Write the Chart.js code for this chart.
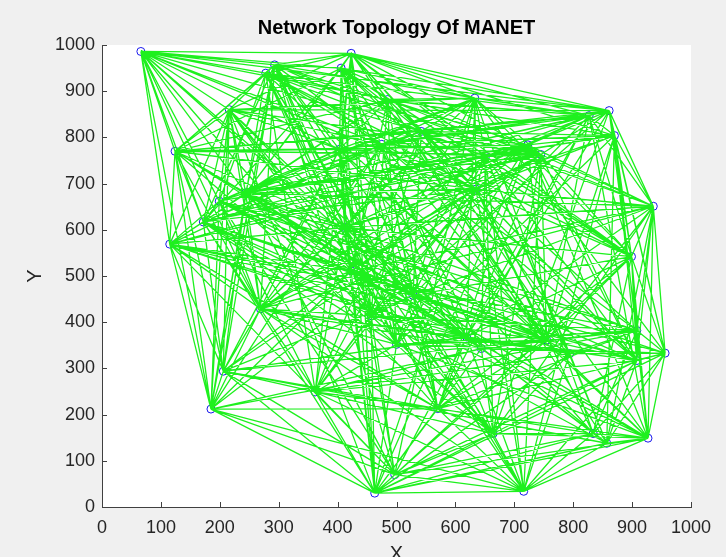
<!DOCTYPE html>
<html>
<head>
<meta charset="utf-8">
<script src="https://cdn.jsdelivr.net/npm/chart.js@4.4.0/dist/chart.umd.min.js"></script>
<style>
  html, body { margin: 0; padding: 0; background: #f0f0f0; overflow: hidden; }
</style>
</head>
<body>
<canvas id="topo" width="726" height="557"></canvas>
<script>
// node positions
const nodeX = [66, 423, 293, 278, 406, 485, 633, 827, 861, 870,
               216, 124, 542, 475, 403, 651, 723, 745, 936, 635,
               244, 199, 172, 115, 412, 423, 899, 269, 457, 528,
               500, 619, 644, 755, 794, 908, 908, 956, 206, 362,
               570, 664, 834, 857, 927, 185, 463, 497, 716];
const nodeY = [986, 982, 957, 939, 950, 882, 885, 847, 858, 804,
               860, 770, 813, 785, 774, 759, 784, 763, 651, 688,
               680, 662, 617, 569, 605, 511, 542, 429, 414, 458,
               352, 368, 343, 361, 332, 382, 317, 333, 294, 249,
               213, 159, 159, 138, 149, 212, 30, 70, 34];

// links: for each node, the higher-numbered nodes it is joined to
const links = [
  [1,2,3,4,5,8,10,11,12,13,14,19,20,21,22,23,24,27,28,29,45],
  [2,3,4,5,6,7,8,9,10,12,14,15,17,19,20,24,26,28,30,33,39,46],
  [3,4,6,10,11,12,13,14,16,18,20,22,24,25,27,29,31,38,40,45,47],
  [5,7,10,11,13,15,17,19,21,24,26,28,30,34,39,41,45,48],
  [5,6,8,11,12,14,17,19,20,22,24,26,29,32,33,36,40,41,46],
  [6,7,9,11,12,14,16,18,20,22,23,25,28,30,33,35,40,43],
  [7,8,10,12,13,14,15,17,19,20,21,24,26,27,29,31,37,39,42,47],
  [8,9,11,12,13,15,16,18,20,22,24,26,29,31,33,40,44],
  [9,10,12,13,14,16,17,18,20,26,28,31,35,37,41],
  [12,13,15,16,18,19,20,24,26,30,33,36,37,43,44,48],
  [11,13,14,17,20,21,22,23,25,27,28,29,32,38,41,45,46],
  [12,14,16,17,19,20,22,23,24,27,29,30,31,38,45],
  [13,15,16,17,19,20,22,24,26,28,29,34,36,39,44],
  [14,17,19,20,22,23,25,27,29,31,33,35,36,40,45],
  [15,16,19,20,21,24,25,27,28,30,33,38,42,44,47],
  [16,17,19,20,22,23,26,27,29,32,34,36,39,41,43,48],
  [17,18,19,20,21,24,25,27,30,33,36,40,44,46],
  [18,19,20,22,23,25,26,27,31,33,36,38,41,45,48],
  [19,20,24,25,26,27,29,31,33,35,36,37,41,43,44],
  [20,22,24,25,26,27,28,30,33,34,36,39,42,46,48],
  [21,22,24,25,27,28,32,33,35,36,38,40,44,45,47],
  [22,23,24,27,29,31,33,35,37,39,45,47],
  [23,25,27,28,30,31,33,36,38,41,44,46],
  [24,25,27,29,31,32,33,35,38,40,45,47],
  [25,26,27,28,30,31,33,35,39,40,43,46,48],
  [27,29,30,32,33,34,37,38,41,44,45,46],
  [29,31,33,35,36,37,40,42,44,47],
  [28,30,32,34,36,38,39,40,45,48],
  [29,31,33,35,39,41,43,46,47],
  [30,32,34,36,38,40,42,48],
  [31,33,35,37,39,41,44,46],
  [32,34,36,38,40,43,47,48],
  [33,35,37,39,41,42,45,46],
  [34,35,36,38,40,44,47],
  [35,37,39,41,43,46,48],
  [36,37,40,42,44,45],
  [37,39,41,43,47,48],
  [40,42,43,44,46],
  [39,40,43,45,46,47],
  [40,41,44,46,47,48],
  [41,42,45,46,48],
  [42,44,46,47,48],
  [43,44,46,47,48],
  [44,46,48],
  [46,47,48],
  [46,47,48],
  [47,48],
  [48],
  []
];

const axisTicks = [0, 100, 200, 300, 400, 500, 600, 700, 800, 900, 1000];

const nodePoints = nodeX.map((x, i) => ({x: x, y: nodeY[i]}));

// every link becomes two points followed by a gap
const linkPoints = [];
links.forEach((targets, i) => {
  targets.forEach(j => {
    linkPoints.push({x: nodeX[i], y: nodeY[i]});
    linkPoints.push({x: nodeX[j], y: nodeY[j]});
    linkPoints.push({x: nodeX[j], y: null});
  });
});

const fontFam = 'Helvetica, Arial, "Liberation Sans", sans-serif';

// MATLAB style ticks pointing into the axes
const innerTicks = {
  id: 'innerTicks',
  afterDraw(chart) {
    const {ctx, chartArea, scales} = chart;
    ctx.save();
    ctx.strokeStyle = '#404040';
    ctx.lineWidth = 1;
    ctx.beginPath();
    axisTicks.forEach(v => {
      const px = Math.round(scales.x.getPixelForValue(v)) + 0.5;
      ctx.moveTo(px, chartArea.bottom);
      ctx.lineTo(px, chartArea.bottom - 5);
      const py = Math.round(scales.y.getPixelForValue(v)) + 0.5;
      ctx.moveTo(chartArea.left, py);
      ctx.lineTo(chartArea.left + 5, py);
    });
    ctx.stroke();
    ctx.restore();
  }
};

new Chart(document.getElementById('topo'), {
  type: 'scatter',
  data: {
    datasets: [{
      label: 'links',
      data: linkPoints,
      showLine: true,
      spanGaps: false,
      borderColor: 'rgb(30,240,30)',
      borderWidth: 1.3,
      pointRadius: 0,
      pointHoverRadius: 0,
      tension: 0
    }, {
      label: 'nodes',
      data: nodePoints,
      showLine: false,
      pointStyle: 'circle',
      pointRadius: 4,
      pointBorderWidth: 1,
      pointBorderColor: '#1a1aee',
      pointBackgroundColor: 'rgba(0,0,0,0)'
    }]
  },
  options: {
    responsive: false,
    animation: false,
    events: [],
    layout: { padding: { left: 0, right: 35, top: 0, bottom: 0 } },
    plugins: {
      legend: { display: false },
      tooltip: { enabled: false },
      title: { display: false }
    },
    scales: {
      x: {
        type: 'linear',
        min: 0,
        max: 1000,
        afterFit(scale) { scale.height = 50; },
        grid: { display: false, drawTicks: false },
        border: { display: true, color: '#404040', width: 1 },
        ticks: {
          stepSize: 100,
          padding: 10,
          color: '#262626',
          font: { family: fontFam, size: 18 },
          callback: v => String(v)
        },
        title: {
          display: true,
          text: 'X',
          color: '#262626',
          font: { family: fontFam, size: 20, lineHeight: 1 },
          padding: { top: 0, bottom: -7 }
        }
      },
      // top axis only carries the chart title, centred over the plot box
      top: {
        type: 'linear',
        position: 'top',
        min: 0,
        max: 1000,
        afterFit(scale) { scale.height = 45; },
        grid: { display: false, drawTicks: false },
        border: { display: false },
        ticks: { display: false },
        title: {
          display: true,
          text: 'Network Topology Of MANET',
          color: '#000000',
          font: { family: fontFam, size: 20, weight: 'bold', lineHeight: 1 },
          padding: { top: 18, bottom: 0 }
        }
      },
      y: {
        type: 'linear',
        min: 0,
        max: 1000,
        afterFit(scale) { scale.width = 102; },
        grid: { display: false, drawTicks: false },
        border: { display: true, color: '#404040', width: 1 },
        ticks: {
          stepSize: 100,
          padding: 7,
          color: '#262626',
          font: { family: fontFam, size: 18 },
          callback: v => String(v)
        },
        title: {
          display: true,
          text: 'Y',
          color: '#262626',
          font: { family: fontFam, size: 20, lineHeight: 1 },
          padding: { top: 25, bottom: 0 }
        }
      }
    }
  },
  plugins: [{
    id: 'plotBackground',
    beforeDraw(chart) {
      const {ctx, chartArea} = chart;
      ctx.save();
      ctx.fillStyle = '#ffffff';
      ctx.fillRect(chartArea.left, chartArea.top, chartArea.right - chartArea.left, chartArea.bottom - chartArea.top);
      ctx.restore();
    }
  }, innerTicks]
});
</script>
</body>
</html>
